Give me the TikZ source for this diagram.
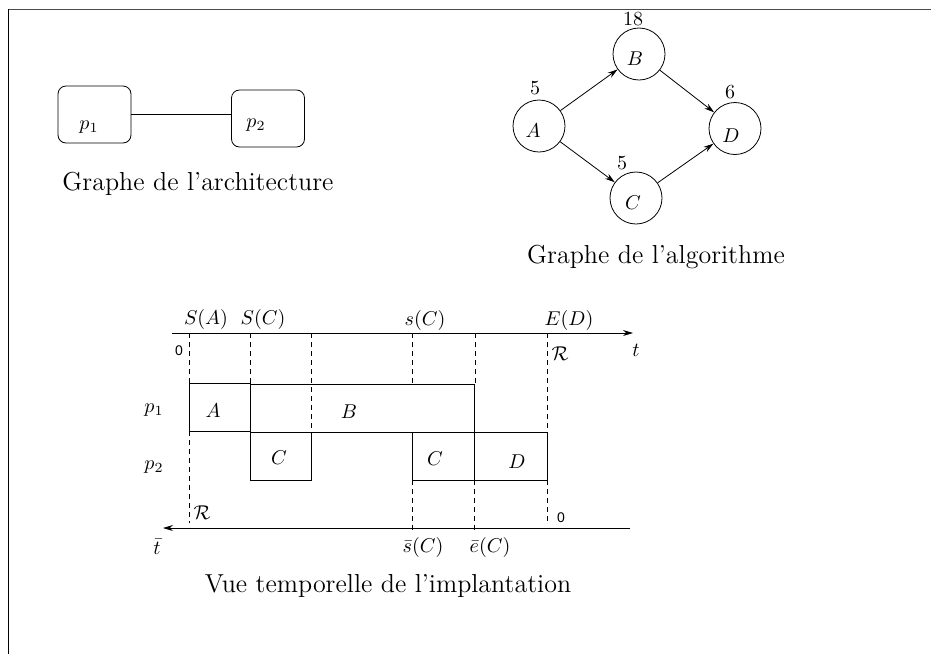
\documentclass[tikz,border=0pt]{standalone}
\usepackage{amsmath}
\usepackage{fontspec}
\newfontfamily\helv{Liberation Sans}
\usetikzlibrary{positioning, arrows.meta}

\begin{document}
\begin{tikzpicture}[x=0.5pt, y=-0.5pt,
  proc/.style={draw, rounded corners=4pt, minimum width=36.5pt, minimum height=28.5pt},
  task/.style={draw, circle, minimum size=26pt, inner sep=0pt},
  lbl/.style={font=\fontsize{10}{12}\selectfont, inner sep=0pt},
  num/.style={font=\helv\fontsize{7}{8}\selectfont, inner sep=0pt},
  caption/.style={font=\fontsize{13}{15}\selectfont, inner sep=0pt},
  guide/.style={dash pattern=on 2.5pt off 2pt},
  >={Stealth[length=5pt, width=3pt]}]
\useasboundingbox (0,0) rectangle (931,654);
% frame
\draw[black!70] (8,9) -- (931,9);
\draw (8,9) -- (8,654);

% Architecture
\node[proc] (p1) at (94.5,114.5) {};
\node[proc] (p2) at (268,118.5) {};
\node[lbl] (lp1) at (89,127) {$p_1$};
\node[lbl] (lp2) at (256,125) {$p_2$};
\draw (p1.east) -- (p1.east -| p2.west);
\node[caption] (capArch) at (198,184) {Graphe de l'architecture};

% Algorithm
\node[task] (A) at (539,126) {};
\node[task] (B) at (639,54) {};
\node[task] (C) at (636,198) {};
\node[task] (D) at (735,128.5) {};
\node[lbl] (lA) at (533,131) {$A$};
\node[lbl] (lB) at (635,59) {$B$};
\node[lbl] (lC) at (633,203) {$C$};
\node[lbl] (lD) at (731,136) {$D$};
\node[lbl] (wA) at (535,88) {5};
\node[lbl] (wB) at (633,19) {18};
\node[lbl] (wC) at (622,163) {5};
\node[lbl] (wD) at (730,92) {6};
\draw[->] (A) -- (B);
\draw[->] (A) -- (C);
\draw[->] (B) -- (D);
\draw[->] (C) -- (D);
\node[caption] (capAlgo) at (656,257) {Graphe de l'algorithme};

% Time axes
\coordinate (t0) at (172,333);
\coordinate (t1) at (633,333);
\coordinate (b0) at (630,528);
\coordinate (b1) at (163,528);
\draw[->] (t0) -- (t1);
\draw[->] (b0) -- (b1);
\node[lbl] (tt) at (636,350) {$t$};
\node[lbl] (tb) at (157,547) {$\bar{t}$};

% Tasks
\draw (189,383) rectangle (250,431);
\draw (250,384) rectangle (474,432);
\draw (250,432) rectangle (311,480);
\draw (412,432) rectangle (474,480);
\draw (474,432) rectangle (547,480);
\node[lbl] (gA) at (213,411) {$A$};
\node[lbl] (gB) at (349,412) {$B$};
\node[lbl] (gC1) at (279,458) {$C$};
\node[lbl] (gC2) at (435,459) {$C$};
\node[lbl] (gD) at (517,462) {$D$};
\node[lbl] (rp1) at (154,410) {$p_1$};
\node[lbl] (rp2) at (154,467) {$p_2$};

% Dashed marks
\foreach \x/\y in {189/383, 250/383, 311/432, 412/384, 475/384, 547/432}
  \draw[guide] (\x,333) -- (\x,\y);
\foreach \x/\a/\b in {189/431/523, 412/480/533, 474/480/532, 547/480/523}
  \draw[guide] (\x,\a) -- (\x,\b);

\node[lbl] (sA) at (206,319) {$S(A)$};
\node[lbl] (sC) at (263,319) {$S(C)$};
\node[lbl] (ssC) at (425,320) {$s(C)$};
\node[lbl] (eD) at (569,320) {$E(D)$};
\node[lbl] (sbC) at (423,547) {$\bar{s}(C)$};
\node[lbl] (ebC) at (490,547) {$\bar{e}(C)$};
\node[num] (z1) at (179,351) {0};
\node[num] (z2) at (561,518) {0};
\node[lbl] (r1) at (560,354) {$\mathcal{R}$};
\node[lbl] (r2) at (202,513) {$\mathcal{R}$};

\node[caption] (capTime) at (388,586) {Vue temporelle de l'implantation};
\end{tikzpicture}
\end{document}
